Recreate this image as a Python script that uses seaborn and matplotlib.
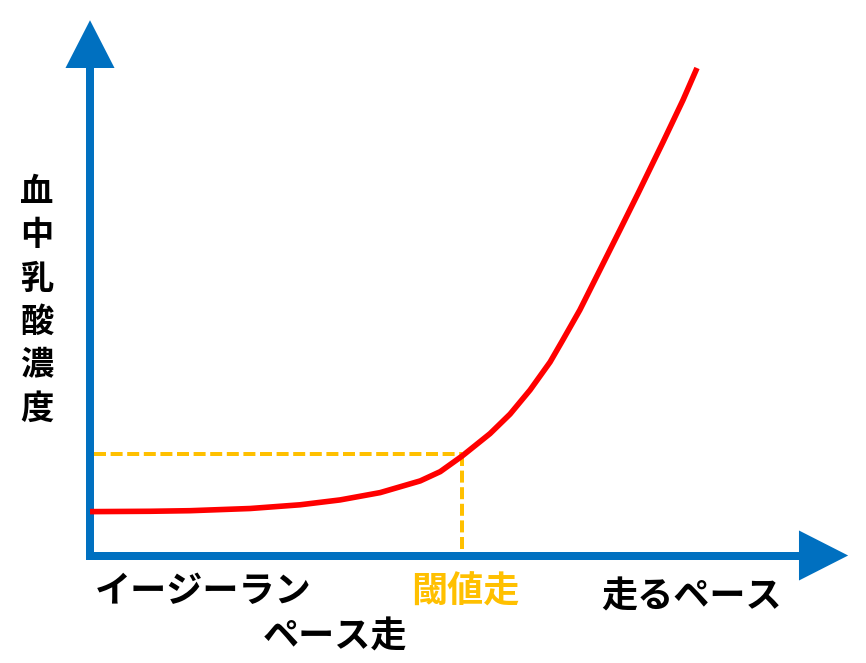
import matplotlib
matplotlib.use("Agg")
import matplotlib.pyplot as plt
from matplotlib.patches import Polygon
import seaborn as sns
import pandas as pd

# ---- data (x = running pace, y = blood lactate, arbitrary units)
pace = [0, 9.9, 16.5, 26.4, 34.6, 41.2, 47.8, 54.4, 57.7, 61.3, 65.9, 69.2, 72.5,
        75.8, 77.8, 80.7, 84.0, 87.3, 90.3, 94.4, 97.7, 100]
lactate = [9.0, 9.07, 9.19, 9.64, 10.4, 11.4, 12.9, 15.3, 17.2, 20.4, 25.0,
           29.0, 33.95, 39.69, 44.0, 50.36, 58.56, 66.77, 74.3, 84.8, 93.44, 100]
threshold_pace = 61.3
threshold_lactate = 20.8

y_label_chars = ["血", "中", "乳", "酸", "濃", "度"]
x_label_easy = ["イージーラン", "ペース走"]
x_label_threshold = "閾値走"
x_label_pace = "走るペース"

df = pd.DataFrame({"pace": pace, "lactate": lactate})

sns.set_theme(style="white")
plt.rcParams["font.family"] = ["Noto Sans CJK JP", "DejaVu Sans"]

W, H = 866, 663
fig = plt.figure(figsize=(W / 100, H / 100), dpi=100)
ax = fig.add_axes([0, 0, 1, 1])

# pixel-to-data scales
sx = 6.07   # px per x unit
sy = 4.875  # px per y unit
x0px, y0px = 90, 555.5
ax.set_xlim(-x0px / sx, (W - x0px) / sx)
ax.set_ylim((y0px - H) / sy, y0px / sy)
ax.axis("off")

blue = "#0070C0"
orange = "#FFC000"
red = "#FF0000"

# axes lines with arrowheads
lw_axis = 8 * 72 / 100
ax.plot([0, 0], [-0.75, 100.5], color=blue, lw=lw_axis, solid_capstyle="butt")
ax.plot([-0.66, 117.0], [0, 0], color=blue, lw=lw_axis, solid_capstyle="butt")
ax.add_patch(Polygon([(-4.04, 100.0), (4.04, 100.0), (0, 109.8)], closed=True,
                     facecolor=blue, edgecolor="none"))
ax.add_patch(Polygon([(116.8, -5.13), (116.8, 5.13), (124.9, 0)], closed=True,
                     facecolor=blue, edgecolor="none"))

# threshold dashed guides
lw_dash = 4 * 72 / 100
ax.plot([0.6, threshold_pace], [threshold_lactate, threshold_lactate], color=orange,
        lw=lw_dash, dashes=(3, 1.15), solid_capstyle="butt")
ax.plot([threshold_pace, threshold_pace], [threshold_lactate, 0.7], color=orange,
        lw=lw_dash, dashes=(3, 1.15))

# lactate curve
sns.lineplot(data=df, x="pace", y="lactate", ax=ax, color=red, lw=5.6 * 72 / 100,
             zorder=5, solid_joinstyle="round", solid_capstyle="butt")
ax.set_xlabel("")
ax.set_ylabel("")

# text labels
def px(x, y):
    return x / W, 1 - y / H

fs = 26
for i, ch in enumerate(y_label_chars):
    fig.text(*px(37, 192 + i * 43.5), ch, ha="center", va="center",
             fontsize=24, fontweight="bold", color="black")

fig.text(*px(203, 592), x_label_easy[0], ha="center", va="center",
         fontsize=fs, fontweight="bold", color="black")
fig.text(*px(335, 637), x_label_easy[1], ha="center", va="center",
         fontsize=fs, fontweight="bold", color="black")
fig.text(*px(465, 592), x_label_threshold, ha="center", va="center",
         fontsize=fs, fontweight="bold", color=orange)
fig.text(*px(692, 597), x_label_pace, ha="center", va="center",
         fontsize=fs, fontweight="bold", color="black")

fig.savefig("out.png", dpi=100)
